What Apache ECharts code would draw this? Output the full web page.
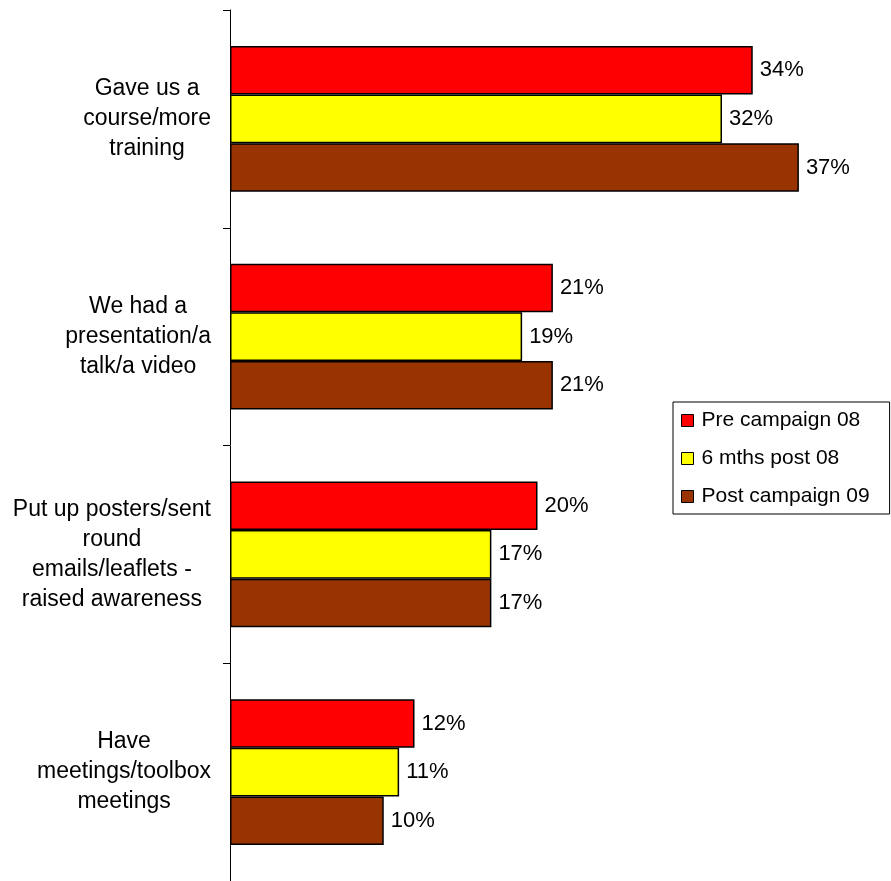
<!DOCTYPE html>
<html>
<head>
<meta charset="utf-8">
<script src="https://cdn.jsdelivr.net/npm/echarts@6/dist/echarts.min.js"></script>
<style>
  html, body { margin: 0; padding: 0; background: #fff; }
  #chart { width: 891px; height: 881px; }
</style>
</head>
<body>
<div id="chart"></div>
<script>
// Survey answers (multi-line category labels) and percentages per wave
const categories = [
  'Gave us a\ncourse/more\ntraining',
  'We had a\npresentation/a\ntalk/a video',
  'Put up posters/sent\nround\nemails/leaflets -\nraised awareness',
  'Have\nmeetings/toolbox\nmeetings'
];
const seriesNames = ['Pre campaign 08', '6 mths post 08', 'Post campaign 09'];
const preCampaign08 = [34, 21, 20, 12];
const sixMonthsPost08 = [32, 19, 17, 11];
const postCampaign09 = [37, 21, 17, 10];
const seriesColors = ['#FF0000', '#FFFF00', '#993300'];

const FONT = '"Liberation Sans", Arial, sans-serif';
const values = [preCampaign08, sixMonthsPost08, postCampaign09];

const chart = echarts.init(document.getElementById('chart'), null, { renderer: 'canvas' });

chart.setOption({
  backgroundColor: '#fff',
  animation: false,
  grid: { left: 230, right: 46, top: 10, height: 872, containLabel: false },
  xAxis: {
    type: 'value',
    min: 0,
    max: 40,
    show: false
  },
  yAxis: {
    type: 'category',
    data: categories,
    inverse: true,
    axisLine: { show: true, lineStyle: { color: '#000', width: 1 } },
    axisTick: { show: true, length: 7, lineStyle: { color: '#000' } },
    axisLabel: {
      margin: 19,
      formatter: function (v) {
        return v.split('\n').map(function (l) { return '{c|' + l + '}'; }).join('\n');
      },
      rich: {
        c: { align: 'center', fontSize: 23, lineHeight: 30, color: '#000', fontFamily: FONT }
      }
    },
    splitLine: { show: false }
  },
  legend: {
    orient: 'vertical',
    left: 673,
    top: 402,
    padding: [8, 20, 7, 8],
    itemGap: 17,
    itemWidth: 12,
    itemHeight: 12,
    icon: 'rect',
    borderColor: '#000',
    borderWidth: 1,
    backgroundColor: '#fff',
    itemStyle: { borderColor: '#000', borderWidth: 1 },
    textStyle: { fontSize: 21, color: '#000', fontFamily: FONT, padding: [0, 0, 0, 3] },
    data: seriesNames
  },
  series: seriesNames.map(function (name, i) {
    return {
      name: name,
      type: 'bar',
      data: values[i],
      barWidth: 48.6,
      barGap: '0%',
      itemStyle: { color: seriesColors[i], borderColor: '#000', borderWidth: 1.5 },
      label: {
        show: true,
        position: 'right',
        distance: 7,
        formatter: '{c}%',
        fontSize: 22,
        color: '#000',
        fontFamily: FONT
      }
    };
  })
});
</script>
</body>
</html>
